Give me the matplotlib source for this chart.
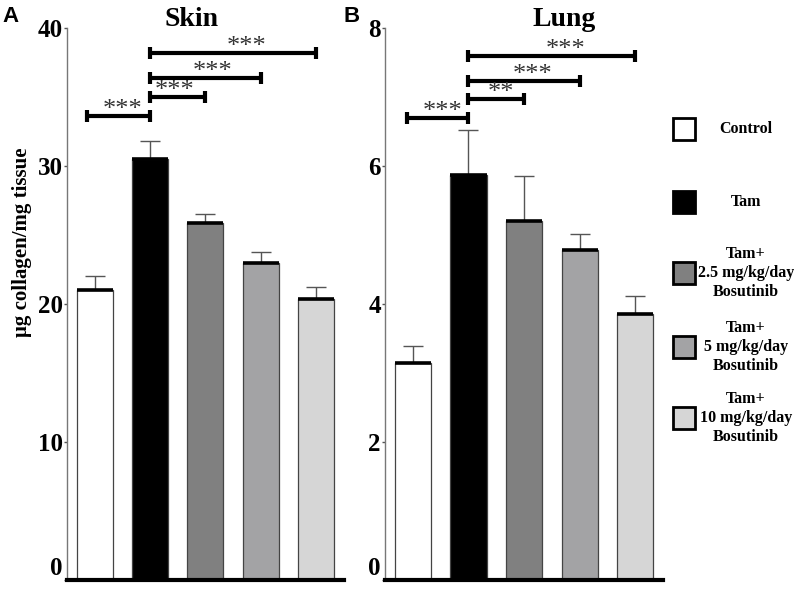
import numpy as np
import matplotlib.pyplot as plt
from matplotlib.patches import Rectangle

groups = ["Control", "Tam", "Tam+\n2.5 mg/kg/day\nBosutinib",
          "Tam+\n5 mg/kg/day\nBosutinib", "Tam+\n10 mg/kg/day\nBosutinib"]
colors = ["#ffffff", "#000000", "#808080", "#a3a3a5", "#d6d6d6"]

skin_mean = [21.0, 30.5, 25.9, 23.0, 20.4]
skin_err = [1.0, 1.3, 0.6, 0.8, 0.8]
lung_mean = [3.15, 5.87, 5.21, 4.79, 3.85]
lung_err = [0.24, 0.65, 0.65, 0.23, 0.26]

# significance brackets: (start, end, height, label, star x)
skin_sig = [(-0.14, 1, 33.6, "***", 0.5), (1, 2, 35.0, "***", 1.44),
            (1, 3, 36.4, "***", 2.13), (1, 4, 38.2, "***", 2.74)]
lung_sig = [(-0.1, 1, 6.70, "***", 0.53), (1, 2, 6.97, "**", 1.58),
            (1, 3, 7.24, "***", 2.15), (1, 4, 7.60, "***", 2.75)]

serif = "Liberation Serif"
plt.rcParams['font.family'] = serif

fig = plt.figure(figsize=(7.94, 5.89), dpi=100)
ax1 = fig.add_axes([0.0844, 0.0153, 0.3486, 0.937])
ax2 = fig.add_axes([0.485, 0.0153, 0.3500, 0.937])


def panel(ax, mean, err, sig, ymax, step):
    x = np.arange(len(mean))
    ax.bar(x, mean, width=0.65, color=colors, edgecolor="#444444", linewidth=0.9,
           zorder=2)
    ax.errorbar(x, mean, yerr=[np.zeros(len(err)), err], fmt="none",
                ecolor="#555555", elinewidth=1.0, capsize=7, capthick=1.0, zorder=1)
    ax.hlines(mean, x - 0.325, x + 0.325, color="black", linewidth=2.6, zorder=3)
    for a, b, h, lab, sx in sig:
        ax.plot([a, b], [h, h], color="black", lw=3, marker="|", ms=9, mew=3,
                solid_capstyle="butt")
        ax.text(sx, h, lab, ha="center", va="baseline", fontsize=19,
                color="#333333", family=serif)
    ax.set_xlim(-0.5, 4.5)
    ax.set_ylim(0, ymax)
    ax.set_yticks(np.arange(0, ymax + 0.01, step))
    ax.set_xticks([])
    for s in ["top", "right"]:
        ax.spines[s].set_visible(False)
    ax.spines["left"].set_color("#777777")
    ax.spines["left"].set_linewidth(1.0)
    ax.spines["bottom"].set_color("black")
    ax.spines["bottom"].set_linewidth(3)
    ax.tick_params(axis="y", length=2, width=1, color="#555555", pad=1)
    labels = ax.get_yticklabels()
    for t in labels:
        t.set_fontsize(18)
        t.set_fontweight("bold")
    labels[0].set_va("bottom")


panel(ax1, skin_mean, skin_err, skin_sig, 40, 10)
panel(ax2, lung_mean, lung_err, lung_sig, 8, 2)

fig.text(192 / 794, 1 - 19 / 589, "Skin", fontsize=20, fontweight="bold",
         ha="center", va="center")
fig.text(564 / 794, 1 - 19 / 589, "Lung", fontsize=20, fontweight="bold",
         ha="center", va="center")
fig.text(22 / 794, 1 - 242 / 589, "\u03bcg collagen/mg tissue", fontsize=15,
         fontweight="bold", rotation=90, ha="center", va="center")

fig.text(0.003, 0.972, "A", fontsize=16, fontweight="bold", family="Liberation Sans",
         va="center")
fig.text(0.433, 0.972, "B", fontsize=16, fontweight="bold", family="Liberation Sans",
         va="center")

# legend drawn by hand
leg_y = [129, 202, 273, 347, 418]
for lab, c, yp in zip(groups, colors, leg_y):
    fy = 1 - yp / 589
    fig.patches.append(Rectangle((673 / 794, fy - 11 / 589), 22 / 794, 22 / 589,
                                 transform=fig.transFigure, facecolor=c,
                                 edgecolor="black", linewidth=2))
    fig.text(746 / 794, fy, lab, ha="center", va="center", multialignment="center",
             fontsize=11.5, fontweight="bold", linespacing=1.25)

fig.savefig("out.png", dpi=100)
